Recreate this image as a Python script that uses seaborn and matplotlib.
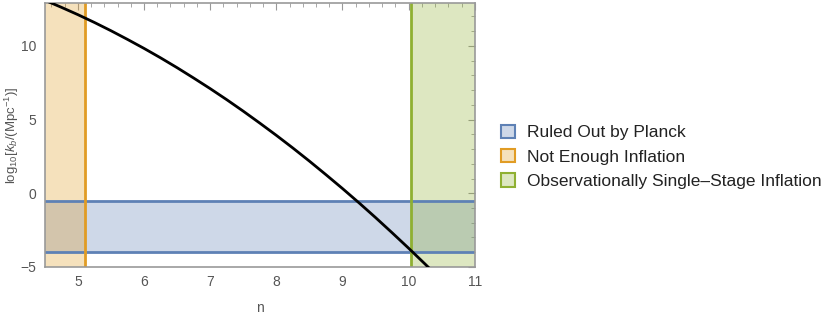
import matplotlib
matplotlib.use("Agg")
import matplotlib.pyplot as plt
from matplotlib.patches import Patch
from matplotlib.ticker import MultipleLocator
import seaborn as sns
import pandas as pd

# curve
n_vals = [4.5, 4.75, 5.0, 5.25, 5.5, 5.75, 6.0, 6.25, 6.5, 6.75, 7.0, 7.25, 7.5,
          7.75, 8.0, 8.25, 8.5, 8.75, 9.0, 9.25, 9.5, 9.75, 10.0, 10.25, 10.5]
logk_vals = [13.10, 12.62, 12.12, 11.59, 11.03, 10.44, 9.83, 9.19, 8.52, 7.82, 7.10,
             6.35, 5.57, 4.76, 3.93, 3.07, 2.18, 1.26, 0.32, -0.65, -1.65, -2.68,
             -3.73, -4.81, -5.92]

planck_band = [-4.0, -0.55]   # ruled out by Planck (y range)
not_enough_n = 5.1            # n below this: not enough inflation
single_stage_n = 10.03        # n above this: single-stage

region_labels = ["Ruled Out by Planck", "Not Enough Inflation",
                 "Observationally Single\u2013Stage Inflation"]
region_colors = ["#5E81B5", "#E19C24", "#8FB032"]

xlim = (4.5, 11)
ylim = (-5, 12.9)

sns.set_theme(style="white")
plt.rcParams["font.family"] = ["Liberation Sans", "DejaVu Sans"]
plt.rcParams["mathtext.fontset"] = "custom"
plt.rcParams["mathtext.rm"] = "Liberation Sans"
plt.rcParams["mathtext.it"] = "Liberation Sans:italic"

fig = plt.figure(figsize=(8.30, 3.17), dpi=100)
ax = fig.add_axes([0.054, 0.158, 0.518, 0.832])

blue, orange, green = region_colors

# shaded regions
ax.axhspan(planck_band[0], planck_band[1], color=blue, alpha=0.3, lw=0, zorder=1)
ax.axvspan(xlim[0], not_enough_n, color=orange, alpha=0.3, lw=0, zorder=1)
ax.axvspan(single_stage_n, xlim[1], color=green, alpha=0.3, lw=0, zorder=1)
for yb in planck_band:
    ax.axhline(yb, color=blue, lw=2, zorder=2)
ax.axvline(not_enough_n, color=orange, lw=2, zorder=2)
ax.axvline(single_stage_n, color=green, lw=2, zorder=2)

df = pd.DataFrame({"n": n_vals, "logk": logk_vals})
sns.lineplot(data=df, x="n", y="logk", ax=ax, color="black", lw=2, zorder=3)

ax.set_xlim(*xlim)
ax.set_ylim(*ylim)
ax.xaxis.set_major_locator(MultipleLocator(1))
ax.xaxis.set_minor_locator(MultipleLocator(0.2))
ax.yaxis.set_major_locator(MultipleLocator(5))
ax.yaxis.set_minor_locator(MultipleLocator(1))
ax.tick_params(which="both", direction="in", top=True, right=True,
               colors="#999999", labelcolor="#555555", labelsize=10, pad=6)
ax.tick_params(which="major", length=5, width=0.8)
ax.tick_params(which="minor", length=3, width=0.6)
for s in ax.spines.values():
    s.set_color("#999999")
    s.set_linewidth(1.2)

ax.set_xlabel("n", color="#555555", fontsize=10)
ax.xaxis.set_label_coords(0.5, -0.13)
ax.set_ylabel(r"$\mathrm{log}_{10}[\mathit{k}_b/(\mathrm{Mpc}^{-1})]$",
              color="#555555", fontsize=9.5)
ax.yaxis.set_label_coords(-0.056, 0.5)

handles = [Patch(facecolor=matplotlib.colors.to_rgba(c, 0.3),
                 edgecolor=c, lw=1.5) for c in region_colors]
fig.legend(handles, region_labels, loc="center left", bbox_to_anchor=(0.604, 0.505),
           frameon=False, fontsize=12.5, handlelength=0.8, handleheight=0.8,
           handletextpad=0.7, labelspacing=0.5, labelcolor="#222222",
           borderpad=0, borderaxespad=0)

fig.savefig("out.png", dpi=100)
